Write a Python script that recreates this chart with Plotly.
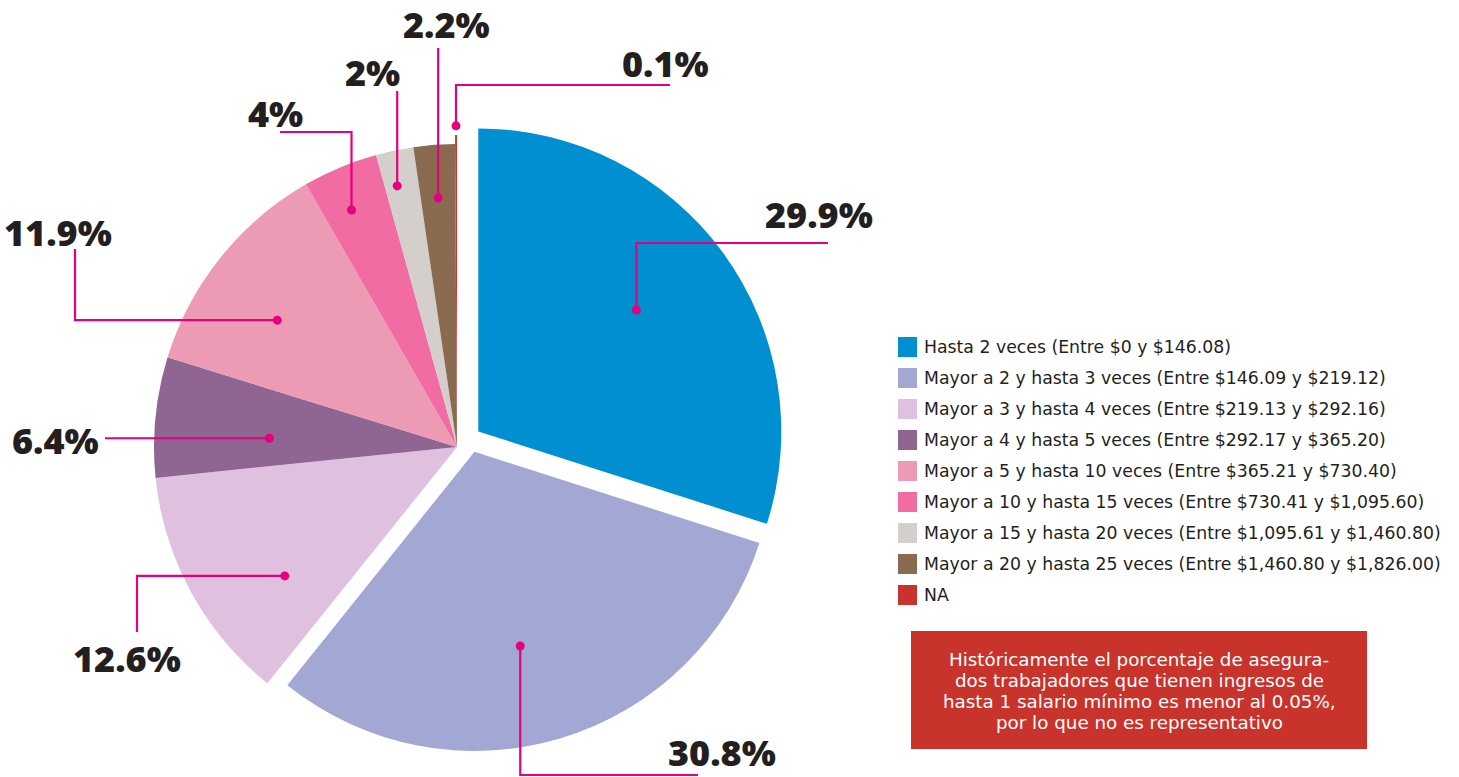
import math
import plotly.graph_objects as go

# ---------------- data ----------------
labels = [
    "Hasta 2 veces (Entre $0 y $146.08)",
    "Mayor a 2 y hasta 3 veces (Entre $146.09 y $219.12)",
    "Mayor a 3 y hasta 4 veces (Entre $219.13 y $292.16)",
    "Mayor a 4 y hasta 5 veces (Entre $292.17 y $365.20)",
    "Mayor a 5 y hasta 10 veces (Entre $365.21 y $730.40)",
    "Mayor a 10 y hasta 15 veces (Entre $730.41 y $1,095.60)",
    "Mayor a 15 y hasta 20 veces (Entre $1,095.61 y $1,460.80)",
    "Mayor a 20 y hasta 25 veces (Entre $1,460.80 y $1,826.00)",
    "NA",
]
values = [29.9, 30.8, 12.6, 6.4, 11.9, 4, 2, 2.2, 0.1]
pct_text = ["29.9%", "30.8%", "12.6%", "6.4%", "11.9%", "4%", "2%", "2.2%", "0.1%"]
note_lines = [
    "Históricamente el porcentaje de asegura-",
    "dos trabajadores que tienen ingresos de",
    "hasta 1 salario mínimo es menor al 0.05%,",
    "por lo que no es representativo",
]

# ---------------- style / layout ----------------
colors = ["#008fd1", "#a2a8d3", "#e0c0df", "#8f6592", "#ed9ab5",
          "#f06ca3", "#d4cfcb", "#8b6b4f", "#c8332d"]
pulls = [0.087, 0.0, 0, 0, 0, 0, 0, 0, 0.03]
SHIFT_IDX = 1              # slice drawn by a second, offset trace
SHIFT_PX = (17.5, 9.0)     # its offset in pixels (right, down)
MAGENTA = "#e6007e"
DARK = "#231f20"
W, H = 1459, 777
CX, CY, R = 457, 447, 303

dot_frac = [0.487, 0.529, 0.318, 0.37, 0.42, 0.41, 0.36, 0.5, 0.5]
dot_rad = [0.658, 0.645, 0.71, 0.62, 0.726, 0.856, 0.884, 0.824, 1.03]
routes = [
    [("v", 243), ("h", 828)],
    [("v", 775), ("h", 698)],
    [("h", 137), ("v", 632)],
    [("h", 105)],
    [("h", 75), ("v", 249)],
    [("v", 132), ("h", 280)],
    [("v", 91)],
    [("v", 48)],
    [("v", 85), ("h", 670)],
]
label_pos = [(819, 215), (722, 752), (127, 658), (55, 440), (58, 232),
             (275, 113), (372, 72), (446, 25), (665, 64)]


def px(x, y):
    return x / W, 1 - y / H


maxpull = max(pulls)
half = R * (1 + maxpull)


def domain(cx, cy):
    return dict(x=[(cx - half) / W, (cx + half) / W],
                y=[max(0.0, (H - cy - half) / H), (H - cy + half) / H])


main_colors = [("rgba(0,0,0,0)" if i == SHIFT_IDX else c) for i, c in enumerate(colors)]
shift_colors = [(c if i == SHIFT_IDX else "rgba(0,0,0,0)") for i, c in enumerate(colors)]

fig = go.Figure()
fig.add_trace(go.Pie(
    labels=labels, values=values, sort=False, direction="clockwise",
    rotation=0, pull=pulls, textinfo="none", hoverinfo="label+percent",
    marker=dict(colors=main_colors, line=dict(width=0)),
    domain=domain(CX, CY), showlegend=False,
))
fig.add_trace(go.Pie(
    labels=labels, values=values, sort=False, direction="clockwise",
    rotation=0, pull=pulls, textinfo="none", hoverinfo="skip",
    marker=dict(colors=shift_colors, line=dict(width=0)),
    domain=domain(CX + SHIFT_PX[0], CY + SHIFT_PX[1]), showlegend=False,
))

shapes = []
annotations = []

total = sum(values)
cum = 0.0
for i, v in enumerate(values):
    span = v / total * 360
    start = cum
    cum += span
    mid = math.radians(start + span / 2)
    ang = math.radians(start + dot_frac[i] * span)
    if i == SHIFT_IDX:
        ox, oy = SHIFT_PX
    else:
        ox = pulls[i] * R * math.sin(mid)
        oy = -pulls[i] * R * math.cos(mid)
    r = dot_rad[i] * R
    dx = CX + ox + r * math.sin(ang)
    dy = CY + oy - r * math.cos(ang)
    pts = [(dx, dy)]
    x, y = dx, dy
    for kind, val in routes[i]:
        if kind == "v":
            y = val
        else:
            x = val
        pts.append((x, y))
    path = "M " + " L ".join(f"{px(a, b)[0]:.5f},{px(a, b)[1]:.5f}" for a, b in pts)
    shapes.append(dict(type="path", path=path, xref="paper", yref="paper",
                       line=dict(color=MAGENTA, width=2.2)))
    rr = 4.5
    x0, y1 = px(dx - rr, dy - rr)
    x1, y0 = px(dx + rr, dy + rr)
    shapes.append(dict(type="circle", xref="paper", yref="paper",
                       x0=x0, x1=x1, y0=y0, y1=y1,
                       fillcolor=MAGENTA, line=dict(width=0)))
    lx, ly = px(*label_pos[i])
    annotations.append(dict(x=lx, y=ly, xref="paper", yref="paper",
                            text=pct_text[i], showarrow=False,
                            xanchor="center", yanchor="middle",
                            font=dict(family="Open Sans", size=36,
                                      color=DARK, weight=800)))

# manual legend
LEG_X, LEG_Y0, LEG_STEP, SQ = 898, 337, 31, 20
for i, lab in enumerate(labels):
    top = LEG_Y0 + i * LEG_STEP
    x0, y1 = px(LEG_X, top)
    x1, y0 = px(LEG_X + 19, top + SQ)
    shapes.append(dict(type="rect", xref="paper", yref="paper",
                       x0=x0, x1=x1, y0=y0, y1=y1,
                       fillcolor=colors[i], line=dict(width=0)))
    tx, ty = px(LEG_X + 24, top + SQ / 2)
    annotations.append(dict(x=tx, y=ty, xref="paper", yref="paper",
                            text=lab, showarrow=False, xanchor="left",
                            yanchor="middle",
                            font=dict(family="DejaVu Sans", size=17.3,
                                      color=DARK)))

# note box
x0, y1 = px(911, 631)
x1, y0 = px(1367, 749)
shapes.append(dict(type="rect", xref="paper", yref="paper",
                   x0=x0, x1=x1, y0=y0, y1=y1,
                   fillcolor="#c8332c", line=dict(width=0)))
NOTE_Y0, NOTE_STEP = 659, 21
for j, line in enumerate(note_lines):
    nx, ny = px(1139, NOTE_Y0 + j * NOTE_STEP)
    annotations.append(dict(x=nx, y=ny, xref="paper", yref="paper",
                            text=line, showarrow=False,
                            xanchor="center", yanchor="middle",
                            font=dict(family="DejaVu Sans", size=18.3,
                                      color="white")))

fig.update_layout(
    width=W, height=H, margin=dict(l=0, r=0, t=0, b=0),
    paper_bgcolor="white", plot_bgcolor="white",
    shapes=shapes, annotations=annotations, showlegend=False,
)
fig.write_html("out.html", config={"displayModeBar": False},
               post_script="document.body.style.margin='0';document.body.style.overflow='hidden';")
